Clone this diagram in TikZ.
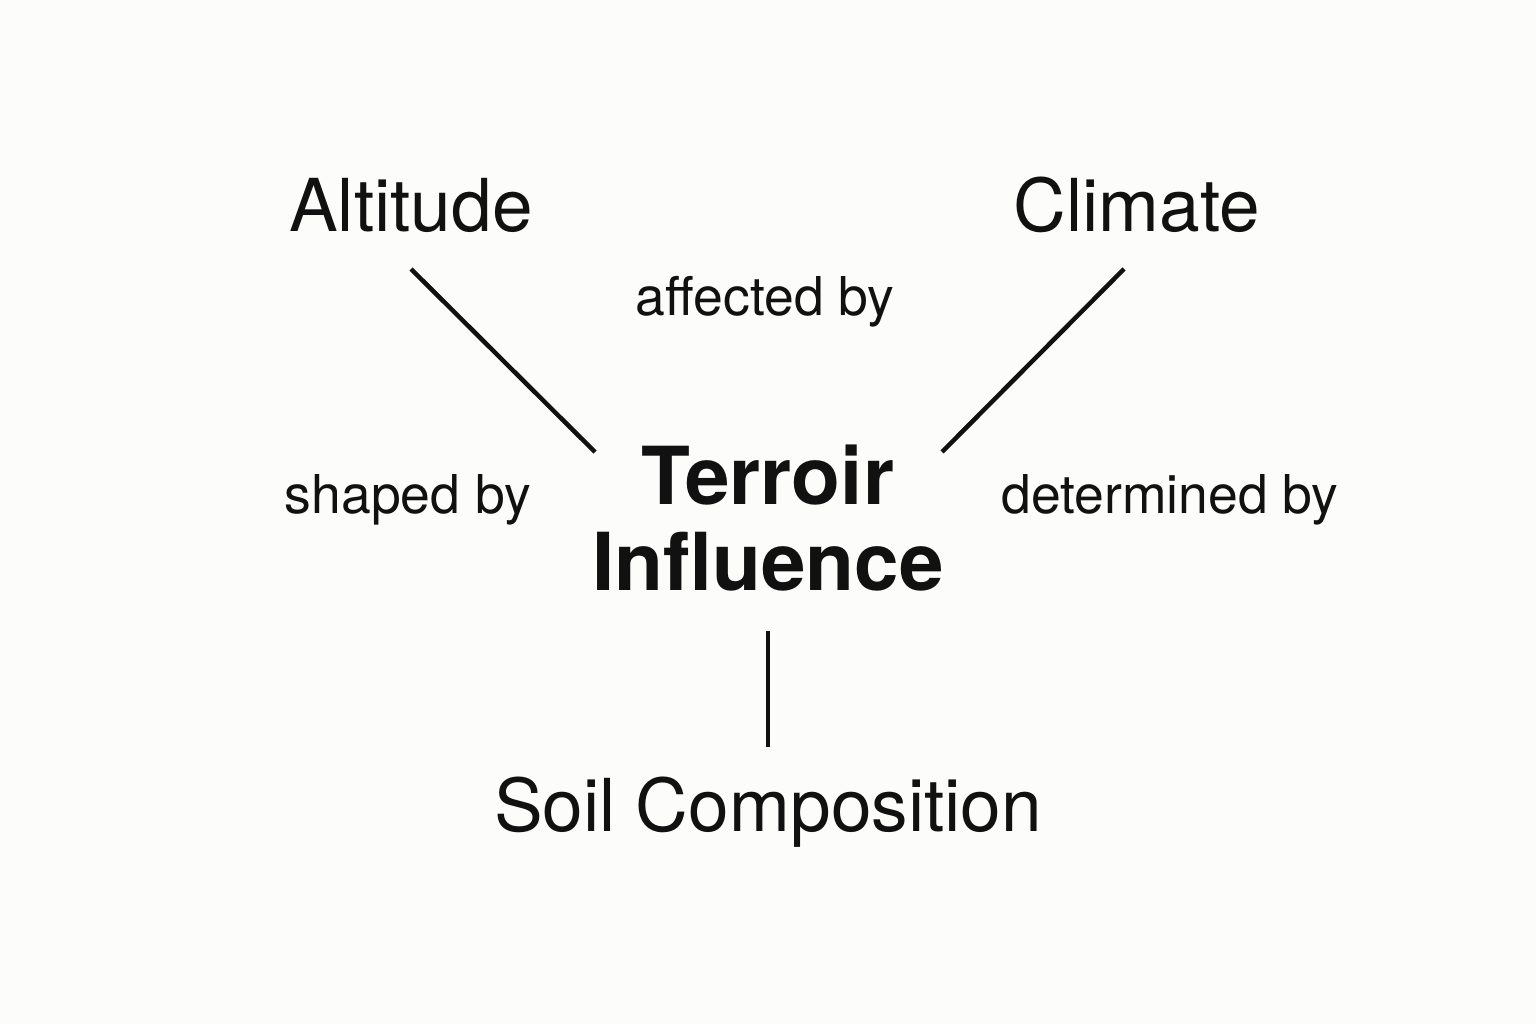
\documentclass[tikz,border=0pt]{standalone}
\usepackage{fontspec}
\setmainfont{TeX Gyre Heros}
\usetikzlibrary{positioning}

\definecolor{bgpaper}{RGB}{252,252,250}
\definecolor{ink}{RGB}{17,17,17}

\tikzset{
  factor/.style={inner sep=0pt, text=ink, font=\fontsize{73}{86}\selectfont},
  relation/.style={inner sep=0pt, text=ink, font=\fontsize{53.5}{60}\selectfont},
  hub/.style={inner sep=0pt, text=ink, align=center, font=\bfseries\fontsize{80}{86}\selectfont},
  link/.style={draw=ink, line width=4.5pt}
}

\begin{document}
\begin{tikzpicture}[x=1pt,y=1pt,yscale=-1,xscale=1]
%set diagram frame: 1536 wide, 1024 high
\fill[bgpaper] (0,0) rectangle (1536,1024);
\useasboundingbox (0,0) rectangle (1536,1024);

% Text Node
\draw (768,518) node [hub] (terr) {Terroir\\Influence};
% Text Node
\draw (411,205) node [factor] (alt) {Altitude};
% Text Node
\draw (1137,205) node [factor] (clim) {Climate};
% Text Node
\draw (768,812) node [factor] (soil) {Soil Composition};

% Text Node
\draw (765,302) node [relation] (affect) {affected by};
% Text Node
\draw (408,500) node [relation] (shape) {shaped by};
% Text Node
\draw (1170,500) node [relation] (determ) {determined by};

%line ends, kept clear of the texts
\coordinate (altend) at (411,269);
\coordinate (climend) at (1124,269);
\coordinate (terrnw) at (595,452);
\coordinate (terrne) at (942,452);
\coordinate (terrs) at (768,631);
\coordinate (soiltop) at (768,747);

%Straight Lines
\draw [link] (altend) -- (terrnw);
%Straight Lines
\draw [link] (climend) -- (terrne);
%Straight Lines
\draw [link] (terrs) -- (soiltop);

\end{tikzpicture}
\end{document}
